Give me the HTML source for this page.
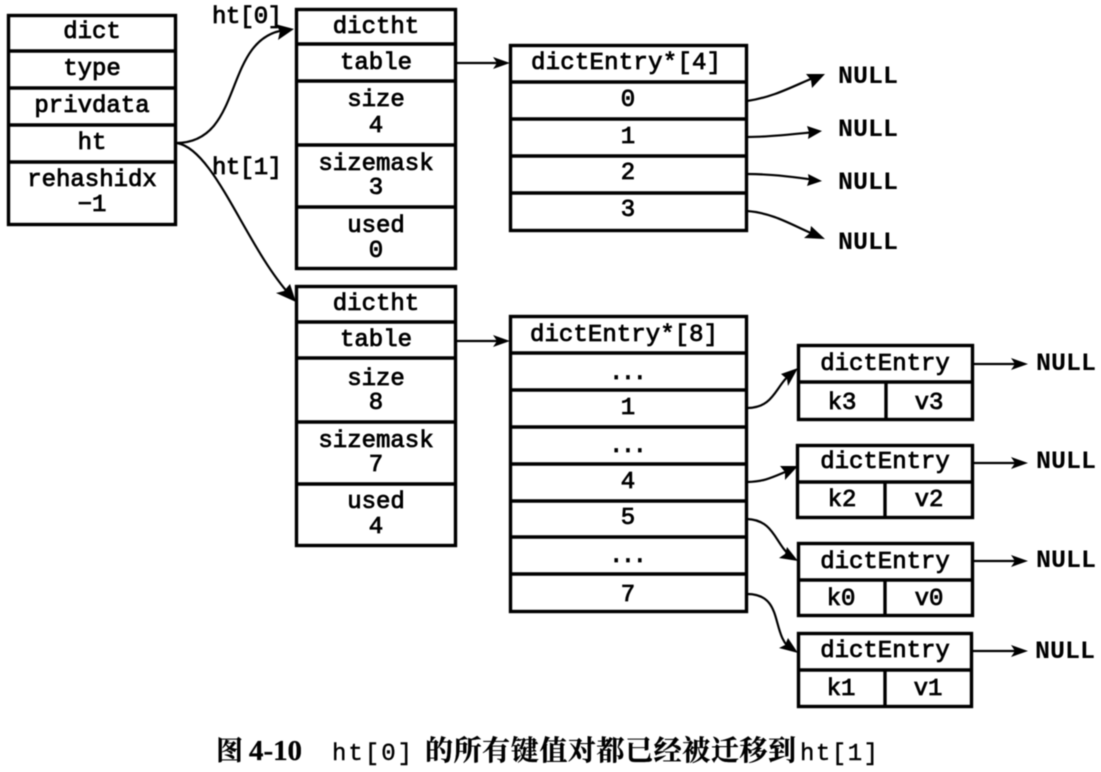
<!DOCTYPE html>
<html><head><meta charset="utf-8"><style>
html,body{margin:0;padding:0;background:#fff}
svg{display:block;filter:blur(.4px)}
text{font-family:"Liberation Mono",monospace;font-size:24px;fill:#000;stroke:#000;stroke-width:.8;text-anchor:middle}
.b{fill:none;stroke:#000;stroke-width:3.4}
.d{stroke:#000;stroke-width:3.4}
.c{fill:none;stroke:#000;stroke-width:2.2}
.a{fill:#000;stroke:none}
text.n{font-weight:bold;stroke-width:0;font-size:25px;text-anchor:start}
text.l{text-anchor:start;font-size:24px}
text.cn{font-family:"Liberation Serif","Noto Serif CJK SC",serif;font-weight:bold;font-size:28px;text-anchor:start;stroke-width:.3}
text.h{font-size:24px;stroke-width:.4;text-anchor:start}
</style></head><body>
<svg width="1101" height="772" viewBox="0 0 1101 772" xmlns="http://www.w3.org/2000/svg">
<rect width="1101" height="772" fill="#fff"/>
<!-- dict -->
<rect class="b" x="8.5" y="15.5" width="167" height="209"/>
<path class="d" d="M8 51H176M8 88H176M8 125H176M8 162H176"/>
<text x="92" y="38">dict</text><text x="92" y="75">type</text><text x="92" y="112">privdata</text><text x="92" y="149">ht</text><text x="92" y="186">rehashidx</text><text x="92" y="211">−1</text>
<!-- dictht0 -->
<rect class="b" x="296.5" y="9.5" width="159" height="259"/>
<path class="d" d="M296 44H456M296 81H456M296 145H456M296 207H456"/>
<text x="376" y="33">dictht</text><text x="376" y="69">table</text><text x="376" y="106">size</text><text x="376" y="132">4</text><text x="376" y="170">sizemask</text><text x="376" y="194">3</text><text x="376" y="232">used</text><text x="376" y="257">0</text>
<!-- dictht1 -->
<rect class="b" x="296.5" y="286.5" width="159" height="259"/>
<path class="d" d="M296 322H456M296 358H456M296 422H456M296 484H456"/>
<text x="376" y="310">dictht</text><text x="376" y="346">table</text><text x="376" y="385">size</text><text x="376" y="409">8</text><text x="376" y="447">sizemask</text><text x="376" y="471">7</text><text x="376" y="508">used</text><text x="376" y="533">4</text>
<!-- table 4 -->
<rect class="b" x="510.5" y="45.5" width="236" height="185"/>
<path class="d" d="M510 82H747M510 119H747M510 156H747M510 193H747"/>
<text x="626" y="69" textLength="190">dictEntry*[4]</text><text x="628" y="106">0</text><text x="628" y="143">1</text><text x="628" y="179">2</text><text x="628" y="216">3</text>
<!-- table 8 -->
<rect class="b" x="510.5" y="316.5" width="236" height="295"/>
<path class="d" d="M510 353H747M510 390H747M510 427H747M510 464H747M510 501H747M510 537H747M510 574H747"/>
<text x="624" y="341" textLength="188">dictEntry*[8]</text><text x="628" y="379" textLength="38">...</text><text x="628" y="414">1</text><text x="628" y="452" textLength="38">...</text><text x="628" y="488">4</text><text x="628" y="524">5</text><text x="628" y="562" textLength="38">...</text><text x="628" y="601">7</text>
<!-- entries -->
<g>
<rect class="b" x="798.5" y="345.5" width="174" height="74"/><path class="d" d="M798 382H973M886 382V420"/>
<text x="885" y="370">dictEntry</text><text x="842" y="409">k3</text><text x="929" y="409">v3</text>
<rect class="b" x="797.5" y="445.5" width="175" height="72"/><path class="d" d="M797 482H973M885 482V517"/>
<text x="885" y="468">dictEntry</text><text x="842" y="506">k2</text><text x="929" y="506">v2</text>
<rect class="b" x="798.5" y="543.5" width="174" height="72"/><path class="d" d="M798 580H973M885 580V616"/>
<text x="885" y="568">dictEntry</text><text x="841" y="605">k0</text><text x="929" y="605">v0</text>
<rect class="b" x="798.5" y="633.5" width="173" height="73"/><path class="d" d="M798 670H972M885 670V707"/>
<text x="885" y="657">dictEntry</text><text x="841" y="695">k1</text><text x="928" y="695">v1</text>
</g>
<!-- connectors -->
<path class="c" d="M176 143C245 143 222 38 285 30"/><path class="a" d="M294 29L275 24L280 31L278 40Z"/>
<path class="c" d="M177 143C215 150 245 245 290 295"/><path class="a" d="M296 302L290 284L284 291L276 293Z"/>
<path class="c" d="M457 63H500"/><path class="a" d="M510 63L493 57L497 63L493 69Z"/>
<path class="c" d="M457 341H500"/><path class="a" d="M510 341L493 335L497 341L493 347Z"/>
<path class="c" d="M747 101C775 97 795 85 818 76"/><path class="a" d="M825 74L806 74L811 80L812 88Z"/>
<path class="c" d="M747 137C770 137 795 134 815 132"/><path class="a" d="M822 131L807 126L809 132L808 139Z"/>
<path class="c" d="M747 174C770 174 795 177 815 180"/><path class="a" d="M822 181L808 174L809 180L807 186Z"/>
<path class="c" d="M747 211C775 213 795 227 818 236"/><path class="a" d="M825 239L811 226L810 233L804 238Z"/>
<path class="c" d="M747 408C775 408 775 385 793 372"/><path class="a" d="M798 368L781 374L787 379L788 386Z"/>
<path class="c" d="M747 482C765 482 775 476 790 470"/><path class="a" d="M798 466L780 466L785 472L785 480Z"/>
<path class="c" d="M747 519C775 520 775 545 792 557"/><path class="a" d="M798 561L787 547L785 554L779 558Z"/>
<path class="c" d="M747 594C785 594 770 635 792 650"/><path class="a" d="M798 653L788 638L785 645L779 648Z"/>
<path class="c" d="M973 364H1018"/><path class="a" d="M1028 364L1011 358L1015 364L1011 370Z"/>
<path class="c" d="M973 463H1018"/><path class="a" d="M1028 463L1011 457L1015 463L1011 469Z"/>
<path class="c" d="M973 561H1018"/><path class="a" d="M1028 561L1011 555L1015 561L1011 567Z"/>
<path class="c" d="M973 651H1018"/><path class="a" d="M1028 651L1011 645L1015 651L1011 657Z"/>
<!-- labels -->
<text class="l" x="212" y="23" textLength="70">ht[0]</text>
<text class="l" x="212" y="174" textLength="70">ht[1]</text>
<text class="n" x="838" y="83">NULL</text><text class="n" x="838" y="136">NULL</text><text class="n" x="838" y="189">NULL</text><text class="n" x="838" y="249">NULL</text>
<text class="n" x="1036" y="370">NULL</text><text class="n" x="1036" y="468">NULL</text><text class="n" x="1036" y="567">NULL</text><text class="n" x="1035" y="658">NULL</text>
<!-- caption -->
<text class="cn" x="216" y="760" style="font-size:27px">图</text>
<text class="cn" x="249" y="760" textLength="53" lengthAdjust="spacingAndGlyphs">4-10</text>
<text class="h" x="332" y="760" textLength="80">ht[0]</text>
<text class="cn" x="425" y="760" textLength="371">的所有键值对都已经被迁移到</text>
<text class="h" x="800" y="760" textLength="78">ht[1]</text>
</svg>
</body></html>
